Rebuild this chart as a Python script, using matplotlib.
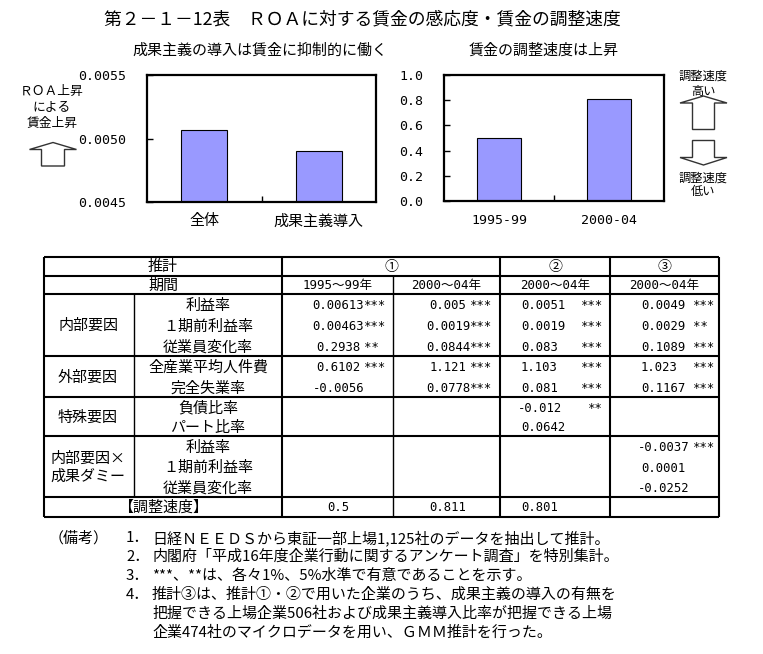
import matplotlib
matplotlib.use("Agg")
import matplotlib.pyplot as plt
from matplotlib.patches import Polygon
from matplotlib.ticker import FormatStrFormatter

JP = ['Noto Sans CJK JP', 'DejaVu Sans']
MONO = ['DejaVu Sans Mono', 'Noto Sans CJK JP']
plt.rcParams['font.family'] = JP

# --- chart data ---
roa_labels = ['全体', '成果主義導入']
roa_values = [0.00507, 0.00490]
speed_labels = ['1995-99', '2000-04']
speed_values = [0.5, 0.811]

# --- table data ---
groups = ['内部要因', '外部要因', '特殊要因', '内部要因×\n成果ダミー']
group_items = [['利益率', '１期前利益率', '従業員変化率'],
               ['全産業平均人件費', '完全失業率'],
               ['負債比率', 'パート比率'],
               ['利益率', '１期前利益率', '従業員変化率']]
est_heads = ['①', '②', '③']
periods = ['1995～99年', '2000～04年', '2000～04年', '2000～04年']
est1_9599 = ['0.00613', '0.00463', '0.2938', '0.6102', '-0.0056', '', '', '', '', '']
star1_9599 = ['***', '***', '** ', '***', '', '', '', '', '', '']
est1_0004 = ['0.005', '0.0019', '0.0844', '1.121', '0.0778', '', '', '', '', '']
star1_0004 = ['***', '***', '***', '***', '***', '', '', '', '', '']
est2 = ['0.0051', '0.0019', '0.083', '1.103', '0.081', '-0.012', '0.0642', '', '', '']
star2 = ['***', '***', '***', '***', '***', '**', '', '', '', '']
est3 = ['0.0049', '0.0029', '0.1089', '1.023', '0.1167', '', '', '-0.0037', '0.0001', '-0.0252']
star3 = ['***', '** ', '***', '***', '***', '', '', '***', '', '']
speeds = ['0.5', '0.811', '0.801', '']

notes = [('（備考）', '1．', '日経ＮＥＥＤＳから東証一部上場1,125社のデータを抽出して推計。'),
         ('', '2．', '内閣府「平成16年度企業行動に関するアンケート調査」を特別集計。'),
         ('', '3．', '***、**は、各々1%、5%水準で有意であることを示す。'),
         ('', '4．', '推計③は、推計①・②で用いた企業のうち、成果主義の導入の有無を'),
         ('', '', '把握できる上場企業506社および成果主義導入比率が把握できる上場'),
         ('', '', '企業474社のマイクロデータを用い、ＧＭＭ推計を行った。')]

W, H = 763, 654
fig = plt.figure(figsize=(W / 100, H / 100), dpi=100)
bg = fig.add_axes([0, 0, 1, 1])
bg.set_xlim(0, W)
bg.set_ylim(H, 0)
bg.axis('off')


def px_axes(x0, y0, x1, y1):
    return fig.add_axes([x0 / W, 1 - y1 / H, (x1 - x0) / W, (y1 - y0) / H])


def style_chart(ax, labels, label_family, label_size):
    ax.set_xlim(-0.5, 1.5)
    ax.set_xticks([0, 1])
    ax.set_xticklabels(labels, family=label_family, fontsize=label_size)
    ax.set_xticks([0.5], minor=True)
    ax.tick_params(axis='x', which='major', length=0, pad=9)
    ax.tick_params(axis='x', which='minor', direction='in', length=4, width=1)
    ax.tick_params(axis='y', direction='in', length=4, width=1, pad=15)
    for lab in ax.get_yticklabels():
        lab.set_family(MONO)
        lab.set_fontsize(9.5)
    for s in ax.spines.values():
        s.set_linewidth(1.6)


# --- titles ---
bg.text(362, 19, '第２－１－12表　ＲＯＡに対する賃金の感応度・賃金の調整速度',
        ha='center', va='center', fontsize=12.8)
bg.text(260, 51, '成果主義の導入は賃金に抑制的に働く', ha='center', va='center', fontsize=10.8)
bg.text(544, 51, '賃金の調整速度は上昇', ha='center', va='center', fontsize=10.8)

# --- left chart ---
ax1 = px_axes(147, 75, 376, 202)
ax1.bar(range(len(roa_values)), roa_values, width=0.4, color='#9999ff',
        edgecolor='black', linewidth=0.8)
ax1.set_ylim(0.0045, 0.0055)
ax1.set_yticks([0.0045, 0.0050, 0.0055])
ax1.yaxis.set_major_formatter(FormatStrFormatter('%.4f'))
style_chart(ax1, roa_labels, JP, 10.8)

# --- right chart ---
ax2 = px_axes(444, 75, 664, 201)
ax2.bar(range(len(speed_values)), speed_values, width=0.4, color='#9999ff',
        edgecolor='black', linewidth=0.8)
ax2.set_ylim(0, 1.0)
ax2.set_yticks([0, 0.2, 0.4, 0.6, 0.8, 1.0])
ax2.yaxis.set_major_formatter(FormatStrFormatter('%.1f'))
style_chart(ax2, speed_labels, MONO, 9.5)

# --- side notes with arrows ---
for y, t in zip([91.5, 107.5, 123.5], ['ＲＯＡ上昇', 'による', '賃金上昇']):
    bg.text(52, y, t, ha='center', va='center', fontsize=9.2)
for y, t in zip([76, 91, 178, 192], ['調整速度', '高い', '調整速度', '低い']):
    bg.text(703, y, t, ha='center', va='center', fontsize=8.8)


def up_arrow(cx, tip, base, bottom, hw, bw):
    return [(cx, tip), (cx + hw, base), (cx + bw, base), (cx + bw, bottom),
            (cx - bw, bottom), (cx - bw, base), (cx - hw, base)]


for pts in [up_arrow(53, 142.5, 149.5, 166, 23.5, 11.5),
            up_arrow(703.5, 96, 103, 129.5, 23.5, 11),
            up_arrow(703.5, 165, 157.5, 140.5, 23.5, 11)]:
    bg.add_patch(Polygon(pts, closed=True, facecolor='white', edgecolor='#333333', linewidth=1))

# --- table ---
cols = [44, 134, 282, 393, 500, 610, 719]
top, r1, r2, bottom = 257, 276, 294, 517
group_bounds = [294, 356, 397, 436, 497]
for y in [top, r1, r2] + group_bounds[1:] + [bottom]:
    bg.hlines(y, cols[0], cols[-1], color='black', linewidth=1.5)
for x in [cols[0], cols[2], cols[4], cols[5], cols[6]]:
    bg.vlines(x, top, bottom, color='black', linewidth=1.5)
bg.vlines(cols[1], group_bounds[0], group_bounds[-1], color='black', linewidth=1.0)
bg.vlines(cols[3], r1, bottom, color='black', linewidth=1.0)

hy1, hy2 = (top + r1) / 2 + 0.5, (r1 + r2) / 2 + 0.5
bg.text((cols[0] + cols[2]) / 2, hy1, '推計', ha='center', va='center', fontsize=10.8)
bg.text((cols[0] + cols[2]) / 2, hy2, '期間', ha='center', va='center', fontsize=10.8)
for head, x0, x1 in zip(est_heads, [cols[2], cols[4], cols[5]], [cols[4], cols[5], cols[6]]):
    bg.text((x0 + x1) / 2, hy1, head, ha='center', va='center', fontsize=10)
for i, p in enumerate(periods):
    bg.text((cols[i + 2] + cols[i + 3]) / 2, hy2, p, ha='center', va='center',
            family=MONO, fontsize=9)

row_y = []
for g, items, y0, y1 in zip(groups, group_items, group_bounds[:-1], group_bounds[1:]):
    h = (y1 - y0) / len(items)
    ys = [y0 + (k + 0.5) * h + 1.5 for k in range(len(items))]
    row_y += ys
    for t, y in zip(items, ys):
        bg.text((cols[1] + cols[2]) / 2, y, t, ha='center', va='center', fontsize=10.8)
    bg.text((cols[0] + cols[1]) / 2 - 1, (y0 + y1) / 2 + 1, g, ha='center', va='center',
            fontsize=10.8, multialignment='left', linespacing=1.35)

# (values, stars, number anchor, number alignment, star right edge)
columns = [(est1_9599, star1_9599, 338.5, 'center', 386),
           (est1_0004, star1_0004, 448, 'center', 492),
           (est2, star2, 521, 'left', 603),
           (est3, star3, 641, 'left', 715)]
for vals, stars, nx, nha, sx in columns:
    for v, s, y in zip(vals, stars, row_y):
        if v:
            shift = -3 if (nha == 'left' and v.startswith('-')) else 0
            bg.text(nx + shift, y, v, ha=nha, va='center', family=MONO, fontsize=8.8)
        if s:
            bg.text(sx, y, s, ha='right', va='center', family=MONO, fontsize=8.8)

sy = (group_bounds[-1] + bottom) / 2 + 0.5
bg.text((cols[0] + cols[2]) / 2, sy, '【調整速度】', ha='center', va='center', fontsize=10.8)
for v, (_, _, nx, nha, _) in zip(speeds, columns):
    if v:
        bg.text(nx, sy, v, ha=nha, va='center', family=MONO, fontsize=8.8)

# --- notes ---
for i, (lead, num, body) in enumerate(notes):
    y = 538 + 19 * i
    if lead:
        bg.text(49, y, lead, ha='left', va='center', fontsize=10.8)
    if num:
        bg.text(126, y, num, ha='left', va='center', fontsize=10.8)
    bg.text(152, y, body, ha='left', va='center', fontsize=10.8)

fig.savefig('out.png', dpi=100)
